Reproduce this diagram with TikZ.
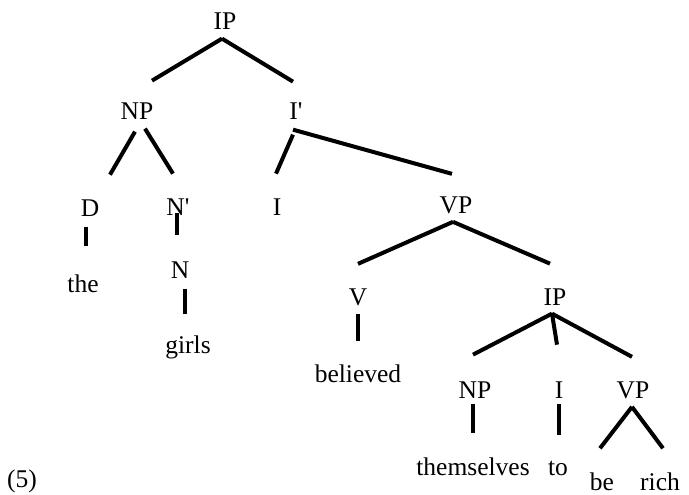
\documentclass[tikz,border=0pt]{standalone}
\usepackage{fontspec}
\setmainfont{Liberation Serif}[Ligatures=TeXOff]
\usetikzlibrary{calc}
\begin{document}
\begin{tikzpicture}[x=1pt,y=-1pt,
  lbl/.style={anchor=base,inner sep=0pt,font=\fontsize{25.5}{28}\selectfont},
  br/.style={line width=4pt}]
\useasboundingbox (0,0) rectangle (689,495);
% nodes (x center, baseline)
\node[lbl] (IP)  at (225,30) {IP};
\node[lbl] (NP)  at (137,120) {NP};
\node[lbl] (Ib)  at (296,120) {I'};
\node[lbl] (D)   at (90,216) {D};
\node[lbl] (Nb)  at (178,215) {N'};
\node[lbl] (I)   at (277,215) {I};
\node[lbl] (VP)  at (456,213) {VP};
\node[lbl] (the) at (83,292) {the};
\node[lbl] (N)   at (180,278) {N};
\node[lbl] (girls) at (188,353) {girls};
\node[lbl] (V)   at (358,305) {V};
\node[lbl] (IP2) at (555,305) {IP};
\node[lbl] (bel) at (358,382) {believed};
\node[lbl] (NP2) at (475,398) {NP};
\node[lbl] (I2)  at (559,398) {I};
\node[lbl] (VP3) at (633,398) {VP};
\node[lbl] (them) at (473,475) {themselves};
\node[lbl] (to)  at (558,475) {to};
\node[lbl] (be)  at (602,490) {be};
\node[lbl] (rich) at (660,490) {rich};
\node[lbl] (ex)  at (22,487) {(5)};
% branches
\draw[br] ($(IP)+(-3,17)$) -- ($(NP)+(15,-31)$);
\draw[br] ($(IP)+(-3,17)$) -- ($(Ib)+(-3,-30)$);
\draw[br] ($(NP)+(-2,20)$) -- ($(D)+(20,-33)$);
\draw[br] ($(NP)+(8,17)$) -- ($(Nb)+(-5,-33)$);
\draw[br] ($(Ib)+(-3,23)$) -- ($(I)+(-1,-33)$);
\draw[br] ($(Ib)+(-3,18)$) -- ($(VP)+(-4,-31)$);
\draw[br] ($(D)+(-4,19)$) -- ($(the)+(3,-37)$);
\draw[br] ($(Nb)+(-1,6)$) -- ($(N)+(-3,-35)$);
\draw[br] ($(N)+(5,19)$) -- ($(girls)+(-3,-33)$);
\draw[br] ($(VP)+(-3,17)$) -- ($(V)+(0,-33)$);
\draw[br] ($(VP)+(-3,17)$) -- ($(IP2)+(-5,-33)$);
\draw[br] ($(V)+(0,17)$) -- ($(bel)+(0,-32)$);
\draw[br] ($(IP2)+(-3,17)$) -- ($(NP2)+(-2,-35)$);
\draw[br] ($(IP2)+(-3,17)$) -- ($(I2)+(-2,-45)$);
\draw[br] ($(IP2)+(-3,17)$) -- ($(VP3)+(-1,-33)$);
\draw[br] ($(NP2)+(-2,14)$) -- ($(them)+(0,-33)$);
\draw[br] ($(I2)+(0,14)$) -- ($(to)+(1,-33)$);
\draw[br] ($(VP3)+(-1,17)$) -- ($(be)+(-2,-33)$);
\draw[br] ($(VP3)+(-1,17)$) -- ($(rich)+(3,-33)$);
\end{tikzpicture}
\end{document}
